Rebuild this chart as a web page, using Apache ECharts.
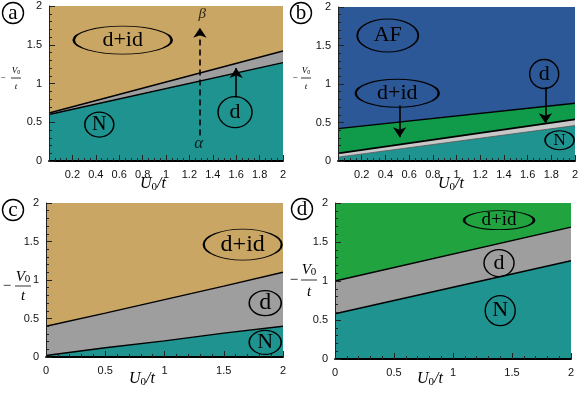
<!DOCTYPE html>
<html><head><meta charset="utf-8">
<script src="https://cdn.jsdelivr.net/npm/echarts@6/dist/echarts.min.js"></script>
<style>html,body{margin:0;padding:0;background:#fff}#c{width:584px;height:393px}</style>
</head><body><div id="c"></div>
<script>
// ---- data ----
const xEnds = [0, 2];
const xFive = [0, 0.5, 1, 1.5, 2];
// panel a
const aUpper = [0.62, 1.42];   // d+id / d boundary
const aLower = [0.60, 1.27];   // d / N boundary
// panel b
const bUpper = [0.42, 0.75];   // AF / d+id
const bMid   = [0.10, 0.54];   // d+id / d
const bLower = [0.05, 0.46];   // d / N
// panel c
const cUpper = [0.40, 0.57, 0.745, 0.92, 1.10];
const cLower = [0.02, 0.12, 0.21, 0.31, 0.40];
// panel d
const dUpper = [1.00, 1.69];
const dLower = [0.58, 1.26];

const SANS = 'Liberation Sans';
const SERIF = 'Liberation Serif';
const C = {tan:'#C9A663', teal:'#1F938F', gray:'#9E9E9E', lgray:'#C8C8C8', blue:'#2C5898', greenB:'#109B4A', greenD:'#21A43F'};

function pts(xs, ys){ return xs.map((x,i)=>[x, ys[i]]); }

function xAx(gi, interval, minor, hideZero){
  return {type:'value', gridIndex:gi, min:0, max:2, interval:interval, z:10,
    axisLine:{show:true, lineStyle:{color:'#000', width:1.8}},
    axisTick:{show:true, inside:true, length:6, lineStyle:{color:'#222', width:1}},
    minorTick:{show:true, splitNumber:minor, length:3, lineStyle:{color:'#222', width:1}},
    splitLine:{show:false},
    axisLabel:{margin:8, fontFamily:SANS, fontSize:11, color:'#111',
      formatter:function(v){ return (hideZero && v===0) ? '' : String(+v.toFixed(2)); }}
  };
}
function yAx(gi){
  return {type:'value', gridIndex:gi, min:0, max:2, interval:0.5, z:10,
    axisLine:{show:true, lineStyle:{color:'#222', width:1}},
    axisTick:{show:true, inside:true, length:6, lineStyle:{color:'#222', width:1}},
    minorTick:{show:true, splitNumber:5, length:3, lineStyle:{color:'#222', width:1}},
    splitLine:{show:false},
    axisLabel:{margin:7, fontFamily:SANS, fontSize:11, color:'#111',
      formatter:function(v){ return String(+v.toFixed(2)); }}
  };
}
function bound(gi, xs, ys, fill, lc, lw){
  return {type:'line', xAxisIndex:gi, yAxisIndex:gi, data:pts(xs, ys), symbol:'none', silent:true,
    lineStyle:{color:lc, width:lw}, areaStyle:{color:fill, opacity:1, origin:'start'}, z:2};
}
function ell(gi, pt, text, w, h, fs){
  return {type:'scatter', xAxisIndex:gi, yAxisIndex:gi, data:[pt], symbol:'circle', symbolSize:[w,h], silent:true,
    itemStyle:{color:'none', opacity:1, borderColor:'#000', borderWidth:1.4},
    emphasis:{disabled:true},
    label:{show:true, position:'inside', formatter:text, fontFamily:SERIF, fontSize:fs, color:'#000', textBorderWidth:0}, z:5};
}
function txt(gi, pt, text, fs){
  return {type:'scatter', xAxisIndex:gi, yAxisIndex:gi, data:[pt], symbolSize:0, silent:true,
    itemStyle:{color:'none'},
    label:{show:true, position:'inside', formatter:text, fontFamily:SERIF, fontStyle:'italic', fontSize:fs, color:'#000', textBorderWidth:0}, z:5};
}
function arrow(gi, from, to, dashed){
  return {type:'lines', coordinateSystem:'cartesian2d', xAxisIndex:gi, yAxisIndex:gi, silent:true,
    data:[{coords:[from, to]}], symbol:['none','arrow'], symbolSize:10,
    lineStyle:{color:'#000', width:1.6, opacity:1, type: dashed ? [6,4] : 'solid'}, z:6};
}
function letter(cx, cy, ch){
  return [{type:'circle', shape:{cx:cx, cy:cy, r:10.5}, style:{fill:'none', stroke:'#000', lineWidth:1.4}},
          {type:'text', x:cx, y:cy, style:{text:ch, font:'21px '+SERIF, fill:'#000', align:'center', verticalAlign:'middle'}}];
}
function frac(mx, cx, vy, ly, ty, fs, hw){
  return [
    {type:'text', x:mx, y:ly, style:{text:'\u2212', font:fs+'px '+SERIF, fill:'#000', align:'center', verticalAlign:'middle'}},
    {type:'text', x:cx, y:vy, style:{text:'{v|V}{s|0}', fill:'#000', align:'center', verticalAlign:'middle',
      rich:{v:{fontFamily:SERIF, fontStyle:'italic', fontSize:fs}, s:{fontFamily:SERIF, fontSize:Math.round(fs*0.7), padding:[Math.round(fs*0.35),0,0,0]}}}},
    {type:'line', shape:{x1:cx-hw, y1:ly, x2:cx+hw, y2:ly}, style:{stroke:'#000', lineWidth:0.8}},
    {type:'text', x:cx, y:ty, style:{text:'t', font:'italic '+fs+'px '+SERIF, fill:'#000', align:'center', verticalAlign:'middle'}}
  ];
}
function xname(cx, cy, fs){
  return {type:'text', x:cx, y:cy, style:{text:'{v|U}{s|0}{v|/t}', fill:'#000', align:'center', verticalAlign:'middle',
    rich:{v:{fontFamily:SERIF, fontStyle:'italic', fontSize:fs}, s:{fontFamily:SERIF, fontSize:Math.round(fs*0.7), padding:[Math.round(fs*0.35),0,0,0]}}}};
}

const chart = echarts.init(document.getElementById('c'), null, {renderer:'canvas'});
chart.setOption({
  animation:false,
  grid:[
    {left:49, top:6, width:234, height:155, show:true, backgroundColor:C.tan, borderWidth:0},
    {left:338, top:7, width:237, height:154, show:true, backgroundColor:C.blue, borderWidth:0},
    {left:46, top:203, width:237, height:154, show:true, backgroundColor:C.tan, borderWidth:0},
    {left:335, top:203, width:236, height:156, show:true, backgroundColor:C.greenD, borderWidth:0}
  ],
  xAxis:[xAx(0,0.2,4,true), xAx(1,0.2,4,true), xAx(2,0.5,5,false), xAx(3,0.5,5,false)],
  yAxis:[yAx(0), yAx(1), yAx(2), yAx(3)],
  series:[
    // a
    bound(0, xEnds, aUpper, C.gray, '#000', 1.4),
    bound(0, xEnds, aLower, C.teal, '#000', 1.4),
    ell(0, [0.63, 1.56], 'd+id', 98, 28, 22),
    ell(0, [0.43, 0.47], 'N', 29, 25, 20),
    ell(0, [1.59, 0.63], 'd', 34, 31, 22),
    arrow(0, [1.6, 0.82], [1.6, 1.2], false),
    arrow(0, [1.29, 0.33], [1.29, 1.72], true),
    txt(0, [1.28, 0.23], '\u03b1', 17),
    txt(0, [1.31, 1.89], '\u03b2', 15),
    // b
    bound(1, xEnds, bUpper, C.greenB, '#000', 1.4),
    bound(1, xEnds, bMid, C.lgray, '#000', 1.7),
    bound(1, xEnds, bLower, C.teal, '#555', 0.8),
    ell(1, [0.42, 1.63], 'AF', 61, 33, 22),
    ell(1, [0.50, 0.88], 'd+id', 83, 28, 22),
    ell(1, [1.74, 1.13], 'd', 29, 29, 22),
    ell(1, [1.87, 0.27], 'N', 29, 19, 17),
    arrow(1, [0.52, 0.72], [0.52, 0.31], false),
    arrow(1, [1.75, 0.96], [1.75, 0.49], false),
    // c
    bound(2, xFive, cUpper, C.gray, '#000', 1.4),
    bound(2, xFive, cLower, C.teal, '#000', 1.4),
    ell(2, [1.66, 1.46], 'd+id', 78, 31, 24),
    ell(2, [1.85, 0.70], 'd', 32, 25, 24),
    ell(2, [1.85, 0.19], 'N', 32, 24, 22),
    // d
    bound(3, xEnds, dUpper, C.gray, '#000', 1.4),
    bound(3, xEnds, dLower, C.teal, '#000', 1.4),
    ell(3, [1.39, 1.78], 'd+id', 70, 19, 19),
    ell(3, [1.39, 1.23], 'd', 30, 27, 22),
    ell(3, [1.40, 0.62], 'N', 30, 30, 22)
  ],
  graphic:[].concat(
    letter(13, 13, 'a'), letter(301, 13, 'b'), letter(13, 210, 'c'), letter(302, 209, 'd'),
    frac(3, 16, 71, 78, 87, 9, 5), frac(295, 306, 71, 78, 87, 9, 5),
    frac(7, 23, 277, 286, 296, 15, 8), frac(294, 309, 270, 280, 292, 15, 8),
    [xname(153, 184, 16), xname(451, 184, 16), xname(142, 379, 16), xname(430, 379, 16)]
  )
});
</script></body></html>
